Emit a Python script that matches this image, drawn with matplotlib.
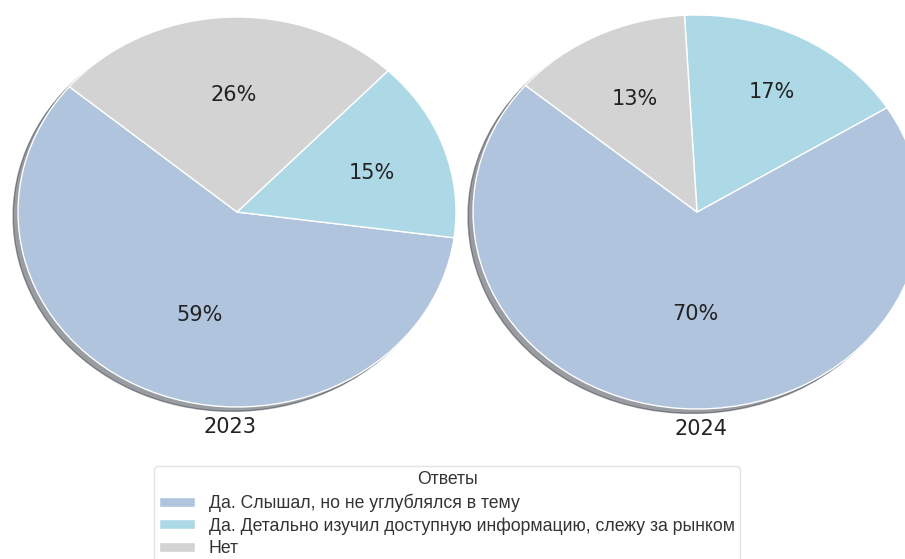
import matplotlib
matplotlib.use('Agg')
import matplotlib.pyplot as plt
from matplotlib.transforms import offset_copy

# данные
categories = ['Да. Слышал, но не углублялся в тему',
              'Да. Детально изучил доступную информацию, слежу за рынком',
              'Нет']
values_2023 = [59, 15, 26]
values_2024 = [70, 17, 13]
years = ['2023', '2024']
colors = ['#b0c4de', '#add8e6', '#d3d3d3']

W, H = 905, 559
fig = plt.figure(figsize=(W / 100, H / 100), dpi=100)


def make_axes(cx, cy, rx, ry, pad=1.15):
    # оси, в которых эллипс пирога занимает заданный прямоугольник в пикселях
    left = (cx - rx * pad) / W
    bottom = (H - cy - ry * pad) / H
    ax = fig.add_axes([left, bottom, 2 * rx * pad / W, 2 * ry * pad / H])
    return ax


def draw_pie(ax, values, year, label_dx, nudges):
    wedges, texts, autotexts = ax.pie(
        values, colors=colors, startangle=140,
        shadow={'ox': -0.016, 'oy': -0.016},
        autopct='%1.0f%%', pctdistance=0.6,
        wedgeprops={'edgecolor': 'white', 'linewidth': 1},
        textprops={'fontsize': 15, 'color': '#222222', 'family': 'DejaVu Sans'})
    ax.set_aspect('auto')
    ax.set_xlim(-1.15, 1.15)
    ax.set_ylim(-1.15, 1.15)
    # небольшая подгонка положения подписей процентов (в пикселях)
    for t, (dx, dy) in zip(autotexts, nudges):
        t.set_transform(offset_copy(ax.transData, fig, x=dx, y=dy, units='dots'))
    ax.text(label_dx, -1.1, year, ha='center', va='center', fontsize=15,
            color='#222222', family='DejaVu Sans')
    return wedges


ax1 = make_axes(237, 212, 219, 195)
wedges = draw_pie(ax1, values_2023, years[0], -0.03,
                  [(16, 4), (11, 0), (4, 0)])

ax2 = make_axes(697, 212, 224, 197)
draw_pie(ax2, values_2024, years[1], 0.02,
         [(8, 16), (13, 15), (-2, 7)])

leg = fig.legend(wedges, categories, title='Ответы', loc='upper center',
                 bbox_to_anchor=(447 / W, 1 - 466 / H),
                 prop={'family': 'Liberation Sans', 'size': 12.7},
                 title_fontproperties={'family': 'Liberation Sans', 'size': 12.7},
                 frameon=True, fancybox=True, labelspacing=0.3,
                 handlelength=2.0, handleheight=0.5, borderpad=0.3,
                 borderaxespad=0)
leg.get_frame().set_edgecolor('#dddddd')
for t in leg.get_texts():
    t.set_color('#333333')
leg.get_title().set_color('#333333')

plt.savefig('out.png', dpi=100)
plt.close()
